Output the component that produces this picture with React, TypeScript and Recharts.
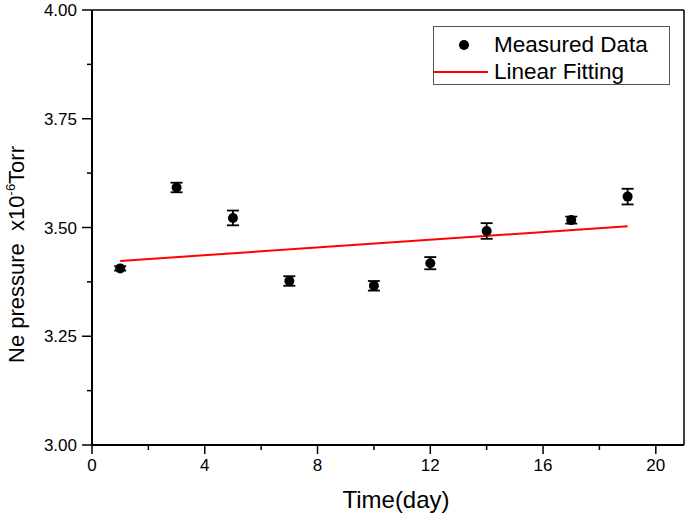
import React from 'react';
import {
  ComposedChart,
  Scatter,
  Line,
  XAxis,
  YAxis,
  ErrorBar,
  ReferenceLine,
  Legend,
} from 'recharts';

// measured Ne pressure (x10^-6 Torr) by day
const days = [1, 3, 5, 7, 10, 12, 14, 17, 19];
const pressure = [3.406, 3.592, 3.522, 3.377, 3.366, 3.418, 3.492, 3.517, 3.571];
const errors = [0.005, 0.011, 0.017, 0.011, 0.011, 0.014, 0.018, 0.008, 0.018];

// linear fit end points
const fitDays = [1, 19];
const fitValues = [3.423, 3.503];

const xTicks = [0, 2, 4, 6, 8, 10, 12, 14, 16, 18, 20];
const xMajor = [0, 4, 8, 12, 16, 20];
const yTicks = [3, 3.125, 3.25, 3.375, 3.5, 3.625, 3.75, 3.875, 4];
const yMajor = [3, 3.25, 3.5, 3.75, 4];

const seriesNames = ['Measured Data', 'Linear Fitting'];

const FONT = '"Liberation Sans", Arial, sans-serif';

const measured = days.map((d, i) => ({ day: d, p: pressure[i], err: errors[i] }));
const fitted = fitDays.map((d, i) => ({ day: d, fit: fitValues[i] }));

const XTick = ({ x, y, payload }: any) => {
  const major = xMajor.includes(payload.value);
  return (
    <g>
      <line x1={x} x2={x} y1={y} y2={y + (major ? 9 : 5)} stroke="#000" strokeWidth={1.5} />
      {major && (
        <text x={x} y={y + 26} textAnchor="middle" fontSize={17} fontFamily={FONT} fill="#000">
          {payload.value}
        </text>
      )}
    </g>
  );
};

const YTick = ({ x, y, payload }: any) => {
  const major = yMajor.includes(payload.value);
  return (
    <g>
      <line x1={x - (major ? 10 : 5)} x2={x} y1={y} y2={y} stroke="#000" strokeWidth={1.5} />
      {major && (
        <text x={x - 15} y={y + 6} textAnchor="end" fontSize={17} fontFamily={FONT} fill="#000">
          {payload.value.toFixed(2)}
        </text>
      )}
    </g>
  );
};

const YLabel = ({ viewBox }: any) => {
  const cx = 24;
  const cy = viewBox.y + viewBox.height / 2 + 27;
  return (
    <text
      x={cx}
      y={cy}
      transform={`rotate(-90 ${cx} ${cy})`}
      textAnchor="middle"
      fontSize={22}
      fontFamily={FONT}
      fill="#000"
    >
      Ne pressure{'\u00a0\u00a0'}x10
      <tspan fontSize={13} dy={-9}>-6</tspan>
      <tspan dy={9}>Torr</tspan>
    </text>
  );
};

const XLabel = ({ viewBox }: any) => (
  <text
    x={viewBox.x + viewBox.width / 2 + 8}
    y={508}
    textAnchor="middle"
    fontSize={24}
    fontFamily={FONT}
    fill="#000"
  >
    Time(day)
  </text>
);

const LegendBox = () => (
  <div
    style={{
      width: 237,
      height: 59,
      border: '1px solid #555',
      background: '#fff',
      fontFamily: FONT,
      fontSize: 22.5,
      color: '#000',
      boxSizing: 'border-box',
      paddingTop: 4,
    }}
  >
    <div style={{ display: 'flex', alignItems: 'center', height: 28 }}>
      <span style={{ width: 60, display: 'flex', justifyContent: 'center' }}>
        <span style={{ width: 10, height: 10, borderRadius: 5, background: '#000' }} />
      </span>
      <span>{seriesNames[0]}</span>
    </div>
    <div style={{ display: 'flex', alignItems: 'center', height: 26 }}>
      <span style={{ width: 54, height: 2, background: '#ff0000', marginRight: 6 }} />
      <span>{seriesNames[1]}</span>
    </div>
  </div>
);

export default function App() {
  return (
    <div style={{ position: 'absolute', left: 0, top: 0, background: '#fff' }}>
      <ComposedChart width={685} height={517} margin={{ top: 10, right: 1, left: 0, bottom: 0 }}>
        <XAxis
          dataKey="day"
          type="number"
          domain={[0, 21]}
          ticks={xTicks}
          interval={0}
          allowDataOverflow
          height={72}
          stroke="#000"
          strokeWidth={2}
          tickLine={false}
          tickSize={0}
          tickMargin={0}
          tick={<XTick />}
          label={{ content: <XLabel /> }}
        />
        <YAxis
          type="number"
          domain={[3, 4]}
          ticks={yTicks}
          interval={0}
          allowDataOverflow
          width={92}
          stroke="#000"
          strokeWidth={2}
          tickLine={false}
          tickSize={0}
          tickMargin={0}
          tick={<YTick />}
          label={{ content: <YLabel /> }}
        />
        <ReferenceLine y={4} stroke="#000" strokeWidth={1.5} />
        <ReferenceLine x={21} stroke="#000" strokeWidth={1.5} />
        <Legend
          layout="horizontal"
          verticalAlign="middle"
          align="center"
          wrapperStyle={{ top: 26, left: 433, width: 237, height: 59 }}
          content={<LegendBox />}
        />
        <Line
          data={fitted}
          dataKey="fit"
          name={seriesNames[1]}
          stroke="#ff0000"
          strokeWidth={2}
          dot={false}
          activeDot={false}
          isAnimationActive={false}
        />
        <Scatter
          data={measured}
          dataKey="p"
          name={seriesNames[0]}
          fill="#000"
          isAnimationActive={false}
          shape={(props: any) => <circle cx={props.cx} cy={props.cy} r={5} fill="#000" />}
        >
          <ErrorBar dataKey="err" direction="y" width={6} stroke="#000" strokeWidth={1.8} />
        </Scatter>
      </ComposedChart>
    </div>
  );
}
